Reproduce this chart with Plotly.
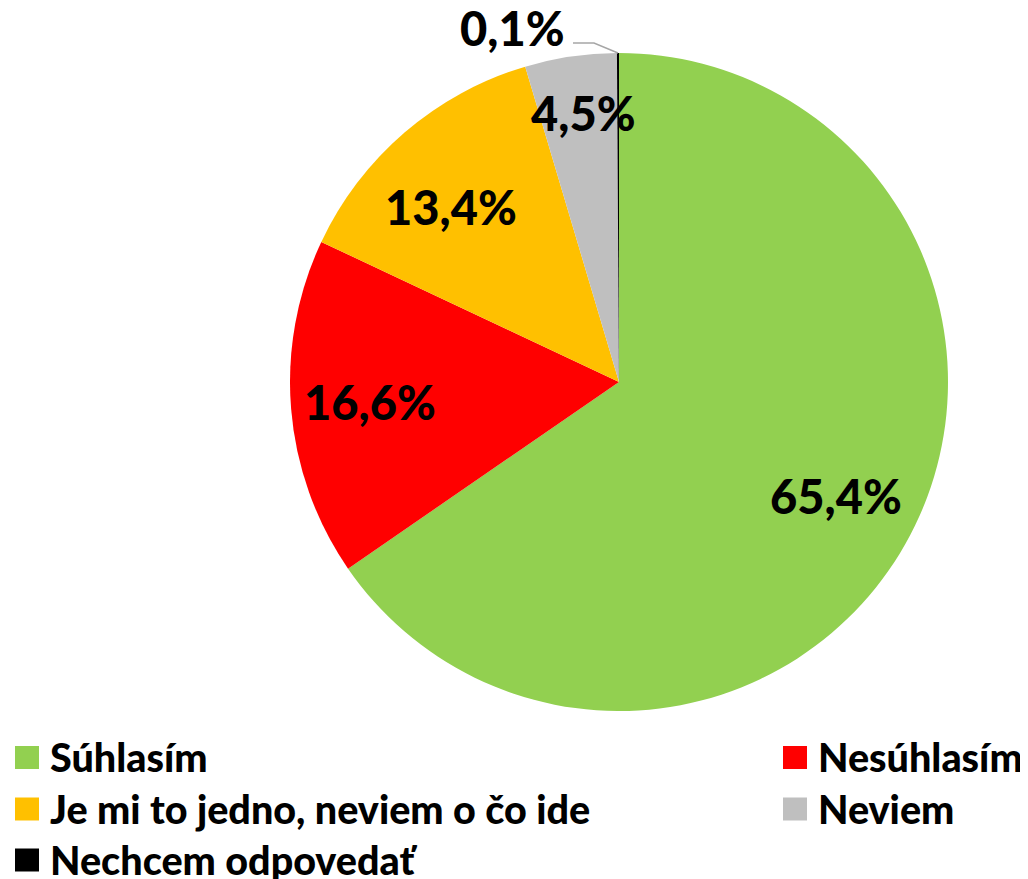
import math
import plotly.graph_objects as go

labels = ["Súhlasím", "Nesúhlasím", "Je mi to jedno, neviem o čo ide", "Neviem", "Nechcem odpovedať"]
values = [65.4, 16.6, 13.4, 4.5, 0.1]
colors = ["#92D050", "#FF0000", "#FFC000", "#BFBFBF", "#000000"]
text_labels = ["65,4%", "16,6%", "13,4%", "4,5%", "0,1%"]

OFF = 8  # page body margin
W, H = 1028 - OFF, 879 - OFF
CX, CY, R = 619 - OFF, 382 - OFF, 329
FONT = "Lato"


def px2paper(x, y):
    return (x - OFF) / W, 1 - (y - OFF) / H


fig = go.Figure(go.Pie(
    labels=labels, values=values, sort=False, direction="clockwise", rotation=0,
    marker=dict(colors=colors, line=dict(width=0)),
    textinfo="none", showlegend=False, hoverinfo="label+percent",
    domain=dict(x=[(CX - R) / W, (CX + R) / W], y=[1 - (CY + R) / H, 1 - (CY - R) / H]),
))

annotations = []
shapes = []
total = sum(values)
radial = [0.745, 0.76, 0.737, 0.825]
angle_adj = [0, 0, -3.1, 0.9]
cum = 0
for i, v in enumerate(values):
    mid = (cum + v / 2) / total * 360
    cum += v
    if i < 4:
        th = math.radians(mid + angle_adj[i])
        f = radial[i]
        x = CX + f * R * math.sin(th)
        y = CY - f * R * math.cos(th)
        annotations.append(dict(x=x / W, y=1 - y / H, xref="paper", yref="paper",
                                xanchor="center", yanchor="middle",
                                text=text_labels[i], showarrow=False,
                                font=dict(family=FONT, size=47, color="black", weight=900)))
    else:
        th = math.radians(mid)
        ex = CX + R * math.sin(th)
        ey = CY - R * math.cos(th)
        a = px2paper(573, 43)
        b = px2paper(594, 43)
        shapes.append(dict(type="path", xref="paper", yref="paper",
                           path=f"M {ex/W},{1-ey/H} L {b[0]},{b[1]} L {a[0]},{a[1]}",
                           line=dict(color="#A6A6A6", width=1.5)))
        p = px2paper(512, 28)
        annotations.append(dict(x=p[0], y=p[1], xref="paper", yref="paper",
                                xanchor="center", yanchor="middle",
                                text=text_labels[i], showarrow=False,
                                font=dict(family=FONT, size=47, color="black", weight=900)))

# custom two-column legend (square centres in reference pixels)
leg_pos = [(27, 757.5), (795, 757.5), (27, 809), (795, 809), (27, 860)]
for (lx, ly), lab, col in zip(leg_pos, labels, colors):
    x0, y0 = px2paper(lx - 12, ly + 11.5)
    x1, y1 = px2paper(lx + 12, ly - 11.5)
    shapes.append(dict(type="rect", xref="paper", yref="paper",
                       x0=x0, x1=x1, y0=y0, y1=y1,
                       fillcolor=col, line=dict(width=0)))
    tx, ty = px2paper(lx + 21, ly - 1)
    annotations.append(dict(x=tx, y=ty, xref="paper", yref="paper",
                            xanchor="left", yanchor="middle", text=lab, showarrow=False,
                            font=dict(family=FONT, size=39.5, color="black", weight=900)))

fig.update_layout(
    width=W, height=H, margin=dict(l=0, r=0, t=0, b=0),
    paper_bgcolor="white", plot_bgcolor="white",
    annotations=annotations, shapes=shapes,
)
fig.write_html("out.html")
